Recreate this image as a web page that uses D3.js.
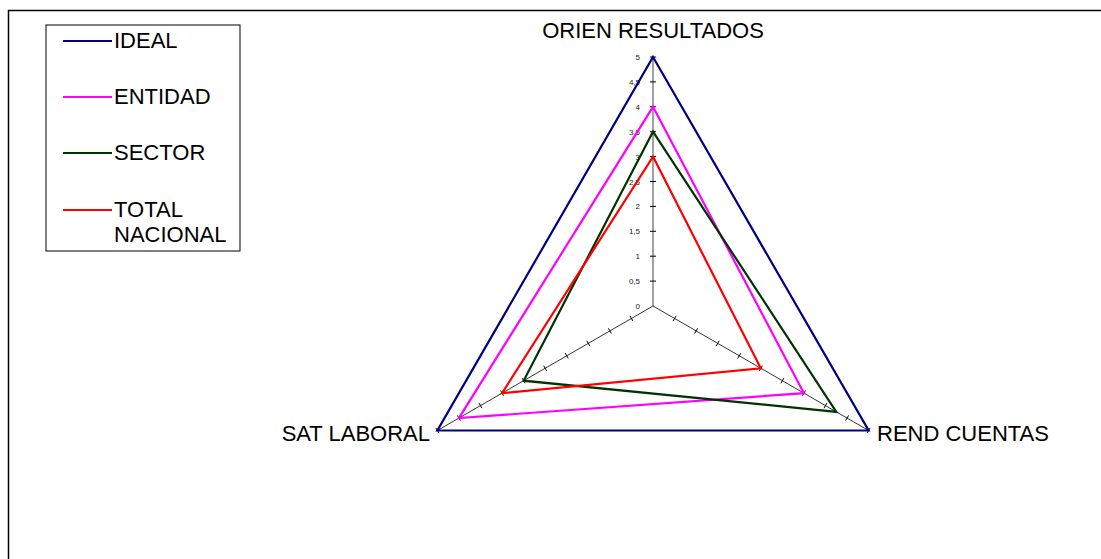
<!DOCTYPE html>
<html>
<head>
  <meta charset="utf-8">
  <script src="https://d3js.org/d3.v7.min.js"></script>
  <style>
  body { margin:0; background:#fff; }
  text { font-family: Arial, "Liberation Sans", sans-serif; fill:#000; }
  .tick-lbl { font-size: 8px; fill:#222; }
</style>
</head>
<body>
<script>
  var categories = ["ORIEN RESULTADOS", "REND CUENTAS", "SAT LABORAL"];
  var seriesNames = ["IDEAL", "ENTIDAD", "SECTOR", "TOTAL NACIONAL"];
  var ideal    = [5, 5, 5];
  var entidad  = [4, 3.5, 4.5];
  var sector   = [3.5, 4.25, 3];
  var total    = [3, 2.5, 3.5];
  var tickLabels = ["0", "0,5", "1", "1,5", "2", "2,5", "3", "3,5", "4", "4,5", "5"];

  var colors = ["#000080", "#ff00ff", "#003300", "#ff0000"];
  var allSeries = [ideal, entidad, sector, total];

  var W = 1101, H = 559, cx = 653, cy = 306, R = 249;

  var svg = d3.select("body").append("svg")
    .attr("width", W).attr("height", H);

  // outer frame
  svg.append("rect").attr("x", 8.5).attr("y", 10.5)
    .attr("width", 1110).attr("height", 600)
    .attr("fill", "none").attr("stroke", "#000").attr("stroke-width", 1.5);

  var r = d3.scaleLinear().domain([0, 5]).range([0, R]);
  var angles = [-90, 30, 150].map(a => a * Math.PI / 180);
  function pt(i, v) { return [cx + r(v) * Math.cos(angles[i]), cy + r(v) * Math.sin(angles[i])]; }

  var g = svg.append("g");

  // spokes
  angles.forEach((a, i) => {
    var end = pt(i, 5);
    g.append("line").attr("x1", cx).attr("y1", cy).attr("x2", end[0]).attr("y2", end[1])
      .attr("stroke", i == 0 ? "#808080" : "#000").attr("stroke-width", i == 0 ? 1.5 : 0.8);
    var ticks = d3.range(0.5, 5.01, 0.5);
    ticks.forEach(t => {
      var p = pt(i, t);
      var px = -Math.sin(angles[i]) * 3, py = Math.cos(angles[i]) * 3;
      g.append("line").attr("x1", p[0] - px).attr("y1", p[1] - py)
        .attr("x2", p[0] + px).attr("y2", p[1] + py)
        .attr("stroke", "#000").attr("stroke-width", 1);
    });
  });

  // radial tick labels on top axis
  tickLabels.forEach((lbl, k) => {
    g.append("text").attr("class", "tick-lbl")
      .attr("x", cx - 13).attr("y", cy - r(k * 0.5) + 3)
      .attr("text-anchor", "end").text(lbl);
  });

  // series polygons
  var line = d3.line().curve(d3.curveLinearClosed);
  allSeries.forEach((s, j) => {
    var pts = s.map((v, i) => pt(i, v));
    g.append("path").attr("d", line(pts))
      .attr("fill", "none").attr("stroke", colors[j]).attr("stroke-width", 2.2)
      .attr("stroke-linejoin", "miter");
  });

  // category labels
  svg.append("text").attr("x", cx).attr("y", 38).attr("text-anchor", "middle")
    .attr("font-size", 22).text(categories[0]);
  svg.append("text").attr("x", 877).attr("y", 441).attr("text-anchor", "start")
    .attr("font-size", 22).text(categories[1]);
  svg.append("text").attr("x", 430).attr("y", 441).attr("text-anchor", "end")
    .attr("font-size", 22).text(categories[2]);

  // legend
  var lg = svg.append("g");
  lg.append("rect").attr("x", 46).attr("y", 25).attr("width", 194).attr("height", 226)
    .attr("fill", "#fff").attr("stroke", "#000").attr("stroke-width", 1);
  var ly = [41, 97, 153, 210];
  seriesNames.forEach((n, j) => {
    lg.append("line").attr("x1", 63).attr("x2", 112).attr("y1", ly[j]).attr("y2", ly[j])
      .attr("stroke", colors[j]).attr("stroke-width", 2);
    var t = lg.append("text").attr("x", 114).attr("y", ly[j] + 7).attr("font-size", 22);
    var words = n.split(" ");
    words.forEach((w, k) => {
      t.append("tspan").attr("x", 114).attr("dy", k == 0 ? 0 : 25).text(w);
    });
  });
</script>
</body>
</html>
